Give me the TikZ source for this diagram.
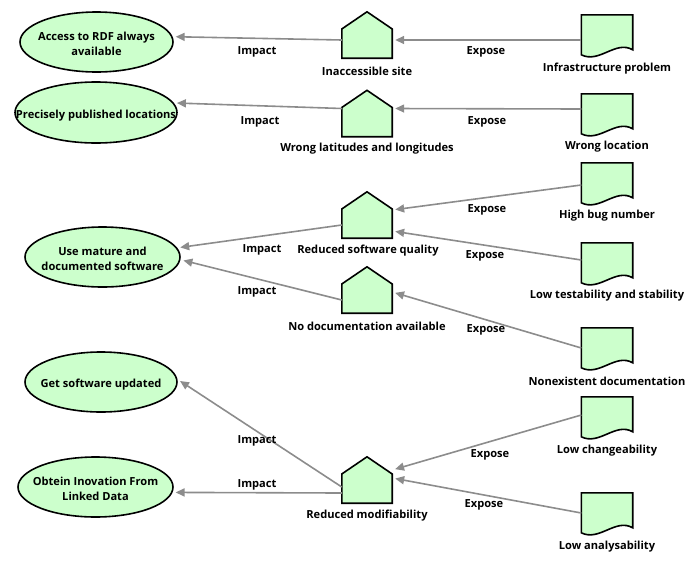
\documentclass[tikz,border=0pt]{standalone}
\usepackage{fontspec}
\setmainfont{Open Sans}
\usetikzlibrary{shapes.geometric,arrows.meta,calc}
\definecolor{fillg}{HTML}{CCFFCC}
\definecolor{arrg}{HTML}{8C8C8C}
\newcommand\drawhouse[1]{\filldraw[shp] (#1.south west) -- ($(#1.south west)!0.63!(#1.north west)$) -- (#1.north) -- ($(#1.south east)!0.63!(#1.north east)$) -- (#1.south east) -- cycle;}
\newcommand\drawdoc[1]{\filldraw[shp] (#1.north west) -- (#1.north east) -- ($(#1.north east)+(0,35)$) .. controls ($(#1.north east)+(-17,25)$) and ($(#1.north west)+(18,49)$) .. ($(#1.north west)+(0,40)$) -- cycle;}
\newcommand\gtext[1]{\raisebox{-2.5pt}[\height][\depth]{\makebox[0pt][c]{\begin{tabular}{@{}c@{}}#1\end{tabular}}}}
\begin{document}
\begin{tikzpicture}[x=1pt,y=-1pt,
 txt/.style={font=\fontsize{11.1}{15}\selectfont\bfseries, text=black},
 goal/.style={ellipse, draw=black, line width=1.6pt, fill=fillg, inner sep=0pt, txt},
 hbox/.style={minimum width=50pt, minimum height=46pt, inner sep=0pt},
 dbox/.style={minimum width=51pt, minimum height=40pt, inner sep=0pt},
 shp/.style={draw=black, fill=fillg, line width=1.6pt, line join=miter},
 lbl/.style={txt, inner sep=0pt, yshift=-1pt},
 arr/.style={draw=arrg, line width=1.6pt, -{Triangle[length=9pt,width=8pt]}, shorten >=3pt},
]
\path[use as bounding box] (0,0) rectangle (696,563);

% goals
\node[goal, minimum width=153pt, minimum height=60pt] (e1) at (96.5,42) {\gtext{Access to RDF always\\available}};
\node[goal, minimum width=162pt, minimum height=61pt] (e2) at (96,112.5) {\gtext{Precisely published locations}};
\node[goal, minimum width=155pt, minimum height=60pt] (e3) at (102.5,257) {\gtext{Use mature and\\documented software}};
\node[goal, minimum width=152pt, minimum height=60pt] (e4) at (101,382) {\gtext{Get software updated}};
\node[goal, minimum width=155pt, minimum height=60pt] (e5) at (95.5,487) {\gtext{Obtein Inovation From\\Linked Data}};

% threats (houses)
\node[hbox] (h1) at (367,35) {};
\node[hbox] (h2) at (367,113.5) {};
\node[hbox] (h3) at (367,215) {};
\node[hbox] (h4) at (367,290) {};
\node[hbox] (h5) at (367,480) {};
\drawhouse{h1}\drawhouse{h2}\drawhouse{h3}\drawhouse{h4}\drawhouse{h5}
\node[lbl] (th1) at (367,70) {Inaccessible site};
\node[lbl] (th2) at (367,148) {Wrong latitudes and longitudes};
\node[lbl] (th3) at (368,250) {Reduced software quality};
\node[lbl] (th4) at (367,325) {No documentation available};
\node[lbl] (th5) at (367,515) {Reduced modifiability};

% problems (documents)
\node[dbox] (d1) at (607,35) {};
\node[dbox] (d2) at (607,114) {};
\node[dbox] (d3) at (607,183) {};
\node[dbox] (d4) at (607,263) {};
\node[dbox] (d5) at (607,348) {};
\node[dbox] (d6) at (607,417) {};
\node[dbox] (d7) at (607,513) {};
\drawdoc{d1}\drawdoc{d2}\drawdoc{d3}\drawdoc{d4}\drawdoc{d5}\drawdoc{d6}\drawdoc{d7}
\node[lbl] (td1) at (607,68) {Infrastructure problem};
\node[lbl] (td2) at (607,146) {Wrong location};
\node[lbl] (td3) at (607,215) {High bug number};
\node[lbl] (td4) at (607,295) {Low testability and stability};
\node[lbl] (td5) at (607,380) {Nonexistent documentation};
\node[lbl] (td6) at (607,450) {Low changeability};
\node[lbl] (td7) at (607,546) {Low analysability};

% expose arrows
\draw[arr] ([shift={(0,5)}]d1.west) -- ([shift={(0,5)}]h1.east);
\draw[arr] ([shift={(0,-5)}]d2.west) -- ([shift={(0,-5)}]h2.east);
\draw[arr] ([shift={(0,2)}]d3.west) -- ([shift={(0,-5)}]h3.east);
\draw[arr] ([shift={(0,-3)}]d4.west) -- ([shift={(0,16)}]h3.east);
\draw[arr] (d5.west) -- ([shift={(0,2)}]h4.east);
\draw[arr] ([shift={(0,-2)}]d6.west) -- ([shift={(0,-10)}]h5.east);
\draw[arr] (d7.west) -- ([shift={(0,-2)}]h5.east);

% impact arrows
\draw[arr] ([shift={(0,5)}]h1.west) -- (e1.4);
\draw[arr] ([shift={(0,-5)}]h2.west) -- (e2.7);
\draw[arr] ([shift={(0,10)}]h3.west) -- (e3.7);
\draw[arr] ([shift={(0,10)}]h4.west) -- (e3.-2);
\draw[arr] ([shift={(0,7)}]h5.west) -- (e4.2);
\draw[arr] ([shift={(0,13)}]h5.west) -- (e5.-4.5);

% connector labels
\node[lbl] (x1) at (486,51) {Expose};
\node[lbl] (x2) at (487,121) {Expose};
\node[lbl] (x3) at (487,209) {Expose};
\node[lbl] (x4) at (485,255) {Expose};
\node[lbl] (x5) at (486,329) {Expose};
\node[lbl] (x6) at (490,454) {Expose};
\node[lbl] (x7) at (484,504) {Expose};
\node[lbl] (i1) at (257,51) {Impact};
\node[lbl] (i2) at (260,121) {Impact};
\node[lbl] (i3) at (262,249) {Impact};
\node[lbl] (i4) at (257,291) {Impact};
\node[lbl] (i5) at (257,440) {Impact};
\node[lbl] (i6) at (257,484) {Impact};
\end{tikzpicture}
\end{document}
